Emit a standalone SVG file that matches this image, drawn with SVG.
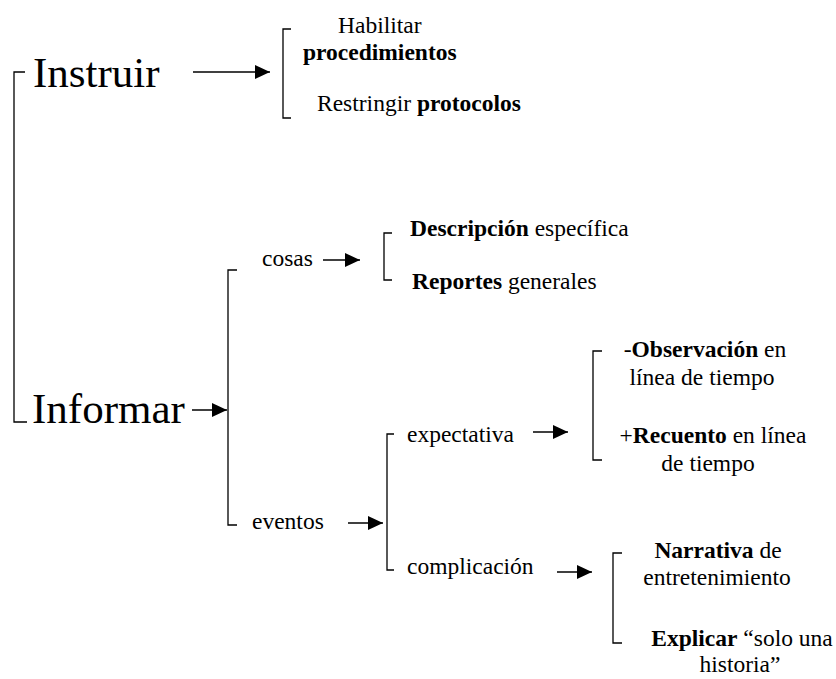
<svg xmlns="http://www.w3.org/2000/svg" width="836" height="679" viewBox="0 0 836 679">
<style>
.big{font-size:43px}
.t{font-size:23.5px}
.b{font-weight:bold}
.m{text-anchor:middle}
.br{fill:none;stroke:#000;stroke-width:1.3}
.ar{fill:none;stroke:#000;stroke-width:1.6}
</style>
<defs>
<marker id="ah" markerUnits="userSpaceOnUse" markerWidth="16" markerHeight="14" refX="15" refY="7" orient="auto">
<polygon points="0,0 15,7 0,14" fill="#000"/>
</marker>
</defs>
<rect width="836" height="679" fill="#fff"/>
<g id="connectors">
<path class="br" d="M25,72 H14 V422 H27"/>
<path class="br" d="M291,29 H283 V118 H291"/>
<path class="br" d="M237,270 H228 V525 H237"/>
<path class="br" d="M392,233 H384 V280 H392"/>
<path class="br" d="M394,434 H387 V570 H394"/>
<path class="br" d="M602,351 H593 V460 H602"/>
<path class="br" d="M622,553 H613 V643 H622"/>
<line class="ar" x1="193" y1="72" x2="270" y2="72" marker-end="url(#ah)"/>
<line class="ar" x1="192" y1="410" x2="227" y2="410" marker-end="url(#ah)"/>
<line class="ar" x1="323" y1="260" x2="360" y2="260" marker-end="url(#ah)"/>
<line class="ar" x1="348" y1="523" x2="383" y2="523" marker-end="url(#ah)"/>
<line class="ar" x1="533" y1="432" x2="568" y2="432" marker-end="url(#ah)"/>
<line class="ar" x1="557" y1="572" x2="592" y2="572" marker-end="url(#ah)"/>
</g>
<g font-family="Liberation Serif, DejaVu Serif, serif" fill="#000">
<g id="instruir"><text class="big" x="33" y="87">Instruir</text></g>
<g id="habilitar">
<text class="t" x="338" y="33">Habilitar</text>
<text class="t b" x="303" y="60">procedimientos</text>
</g>
<g id="restringir"><text class="t" x="317" y="111">Restringir <tspan class="b">protocolos</tspan></text></g>
<g id="informar"><text class="big" x="32" y="423">Informar</text></g>
<g id="cosas"><text class="t" x="262" y="266">cosas</text></g>
<g id="descripcion"><text class="t" x="410" y="236"><tspan class="b">Descripción</tspan> específica</text></g>
<g id="reportes"><text class="t" x="412" y="289"><tspan class="b">Reportes</tspan> generales</text></g>
<g id="eventos"><text class="t" x="252" y="529">eventos</text></g>
<g id="expectativa"><text class="t" x="407" y="442">expectativa</text></g>
<g id="complicacion"><text class="t" x="407" y="574">complicación</text></g>
<g id="observacion">
<text class="t m" x="705" y="357">-<tspan class="b">Observación</tspan> en</text>
<text class="t m" x="702" y="385">línea de tiempo</text>
</g>
<g id="recuento">
<text class="t m" x="713" y="443">+<tspan class="b">Recuento</tspan> en línea</text>
<text class="t m" x="708" y="471">de tiempo</text>
</g>
<g id="narrativa">
<text class="t m" x="718" y="558"><tspan class="b">Narrativa</tspan> de</text>
<text class="t m" x="717" y="585">entretenimiento</text>
</g>
<g id="explicar">
<text class="t m" x="742" y="646"><tspan class="b">Explicar</tspan> “solo una</text>
<text class="t m" x="740" y="672">historia”</text>
</g>
</g>
</svg>
